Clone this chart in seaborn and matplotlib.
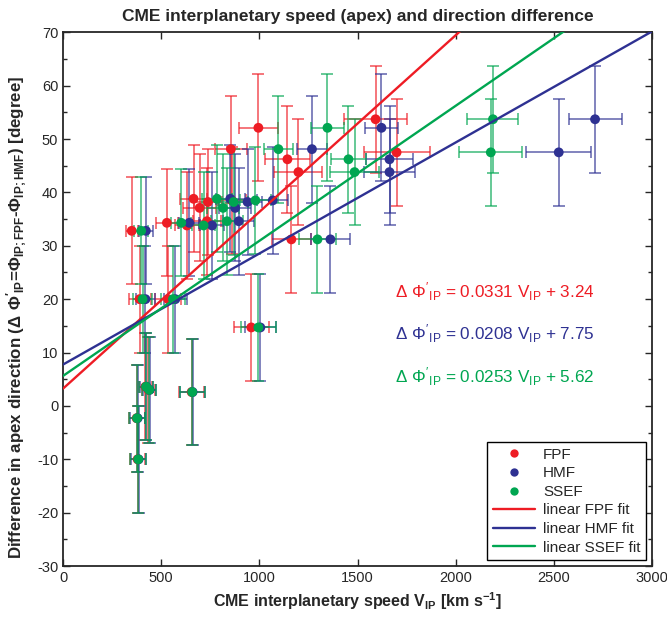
import matplotlib
matplotlib.use("Agg")
import matplotlib.pyplot as plt
from matplotlib.lines import Line2D
from matplotlib.ticker import MultipleLocator
import numpy as np
import pandas as pd
import seaborn as sns

# direction difference per event (deg), shared by all three methods
dphi = [53.7, 52.1, 47.5, 48.1, 46.2, 43.8, 38.8, 38.2, 38.5, 37.1, 34.6, 34.3,
        33.8, 32.8, 31.2, 20.0, 20.0, 14.7, 3.6, 3.0, 2.6, -2.3, -10.0]
dphi_err = 10.0

# interplanetary speeds (km/s) and their uncertainties
fpf_v = [1592, 995, 1699, 855, 1143, 1199, 665, 738, 860, 696, 733, 529,
         631, 350, 1163, 390, 535, 959, 420, 435, 655, 375, 380]
fpf_err = [160, 100, 168, 80, 115, 122, 70, 70, 70, 85, 70, 55,
           60, 30, 100, 56, 66, 90, 35, 35, 63, 40, 40]
hmf_v = [2710, 1622, 2525, 1268, 1663, 1663, 852, 940, 1068, 877, 895, 643,
         759, 422, 1362, 420, 572, 1005, 425, 441, 660, 380, 385]
hmf_err = [135, 82, 165, 75, 118, 130, 75, 75, 80, 80, 80, 50,
           60, 35, 100, 50, 60, 80, 35, 35, 63, 40, 40]
ssef_v = [2190, 1347, 2179, 1097, 1454, 1485, 784, 869, 980, 815, 835, 602,
          716, 398, 1296, 405, 560, 995, 423, 439, 658, 377, 383]
ssef_err = [130, 82, 160, 75, 90, 125, 75, 75, 80, 80, 80, 50,
            60, 35, 95, 50, 60, 90, 35, 35, 63, 40, 40]

# linear fits (slope, intercept) as printed on the chart
fits = {"FPF": (0.0331, 3.24), "HMF": (0.0208, 7.75), "SSEF": (0.0253, 5.62)}

COLORS = {"FPF": "#ee1c24", "HMF": "#2e3192", "SSEF": "#00a651"}

sns.set_style("ticks")
plt.rcParams["font.family"] = ["Liberation Sans", "DejaVu Sans"]
plt.rcParams["mathtext.fontset"] = "custom"
plt.rcParams["mathtext.rm"] = "Liberation Sans"
plt.rcParams["mathtext.default"] = "regular"
plt.rcParams["axes.unicode_minus"] = False
plt.rcParams["axes.linewidth"] = 1.3

fig = plt.figure(figsize=(6.67, 6.2), dpi=100)
ax = fig.add_axes([0.0945, 0.087, 0.883, 0.861])

series = [("FPF", fpf_v, fpf_err), ("HMF", hmf_v, hmf_err), ("SSEF", ssef_v, ssef_err)]

frames = []
for name, v, err in series:
    ax.errorbar(v, dphi, xerr=err, yerr=dphi_err, fmt="none",
                ecolor=COLORS[name], alpha=0.65, elinewidth=1.3,
                capsize=4, capthick=1.3, zorder=2)
    frames.append(pd.DataFrame({"v": v, "dphi": dphi, "method": name}))
df = pd.concat(frames, ignore_index=True)

sns.scatterplot(data=df, x="v", y="dphi", hue="method", palette=COLORS,
                s=50, edgecolor="none", linewidth=0, legend=False, ax=ax, zorder=3)

xs = np.array([0, 3000])
for name, (m, b) in fits.items():
    fit_df = pd.DataFrame({"x": xs, "y": m * xs + b})
    sns.lineplot(data=fit_df, x="x", y="y", color=COLORS[name], lw=1.7, ax=ax, zorder=4)

ax.set_xlim(0, 3000)
ax.set_ylim(-30, 70)
ax.xaxis.set_major_locator(MultipleLocator(500))
ax.yaxis.set_major_locator(MultipleLocator(10))
ax.yaxis.set_minor_locator(MultipleLocator(5))
ax.tick_params(which="both", direction="in", top=True, right=True, labelsize=10.5)
ax.tick_params(which="major", length=5, width=1)
ax.tick_params(which="minor", length=3, width=1)

ax.set_title("CME interplanetary speed (apex) and direction difference",
             fontsize=12.5, fontweight="bold", pad=8)
ax.set_xlabel(r"CME interplanetary speed V$_{IP}$ [km s$^{-1}$]",
              fontsize=11.5, fontweight="bold", labelpad=4)
ax.set_ylabel(r"Difference in apex direction ($\Delta\ \Phi'_{IP}$=$\Phi_{IP;FPF}$-$\Phi_{IP;HMF}$) [degree]",
              fontsize=12.2, fontweight="bold")
ax.yaxis.set_label_coords(-0.058, 0.466)

labels_y = {"FPF": 21.4, "HMF": 13.5, "SSEF": 5.5}
for name, (m, b) in fits.items():
    ax.text(1690, labels_y[name],
            rf"$\Delta\ \Phi'_{{IP}}$ = {m:.4f} V$_{{IP}}$ + {b:.2f}",
            color=COLORS[name], fontsize=12.3, va="center", ha="left")

handles = [Line2D([], [], ls="none", marker="o", ms=6, mec="none",
                  color=COLORS[n], label=n) for n in ["FPF", "HMF", "SSEF"]]
handles += [Line2D([], [], color=COLORS[n], lw=1.7, label=f"linear {n} fit")
            for n in ["FPF", "HMF", "SSEF"]]
leg = ax.legend(handles=handles, loc="lower right", fontsize=11, frameon=True,
                fancybox=False, edgecolor="black", framealpha=1,
                handlelength=2.8, borderaxespad=0.4, labelspacing=0.3,
                borderpad=0.35, handletextpad=0.5)
leg.get_frame().set_linewidth(1.0)

fig.savefig("out.png", dpi=100)
